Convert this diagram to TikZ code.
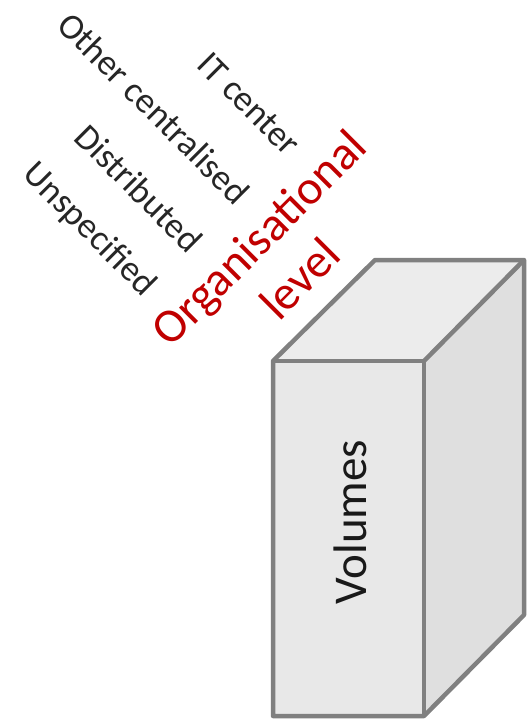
\documentclass[tikz,border=0pt]{standalone}
\usepackage{fontspec}
\setmainfont{Carlito}
\definecolor{edgegray}{HTML}{808080}
\definecolor{frontfill}{HTML}{E8E8E8}
\definecolor{topfill}{HTML}{ECECEC}
\definecolor{sidefill}{HTML}{DFDFDF}
\definecolor{labelred}{HTML}{C00000}
\definecolor{labelblack}{HTML}{262626}
\tikzset{
  face/.style={draw=edgegray, line width=4.5pt, line join=round},
  catlabel/.style={text=labelblack, rotate=-45, inner sep=0pt, font=\fontsize{36}{43}\selectfont},
  axislabel/.style={text=labelred, rotate=45, inner sep=0pt, align=center, font=\fontsize{48}{58}\selectfont},
  boxlabel/.style={text=black!90, rotate=90, inner sep=0pt, font=\fontsize{47}{56}\selectfont}
}
\begin{document}
\begin{tikzpicture}[x=1pt, y=-1pt]
\useasboundingbox (0,0) rectangle (527,723);
% cube corners
\coordinate (A) at (273,361);
\coordinate (B) at (424,361);
\coordinate (C) at (424,716);
\coordinate (D) at (273,716);
\coordinate (E) at (375,260);
\coordinate (F) at (524,260);
\coordinate (G) at (524,615);
% faces
\fill[sidefill] (B) -- (F) -- (G) -- (C) -- cycle;
\fill[topfill] (A) -- (E) -- (F) -- (B) -- cycle;
\fill[frontfill] (A) rectangle (C);
\draw[face] (A) -- (E) -- (F) -- (G) -- (C) -- (D) -- cycle;
\draw[face] (A) -- (B) -- (C);
\draw[face] (B) -- (F);
% texts
\node[boxlabel, anchor=base] (vol) at (366,522) {Volumes};
\node[axislabel] (org) at (279,258) {Organisational\\level};
\node[catlabel] (it) at (249,104) {IT center};
\node[catlabel] (oc) at (154,108) {Other centralised};
\node[catlabel] (di) at (139,188) {Distributed};
\node[catlabel] (un) at (89,230) {Unspecified};
\end{tikzpicture}
\end{document}
